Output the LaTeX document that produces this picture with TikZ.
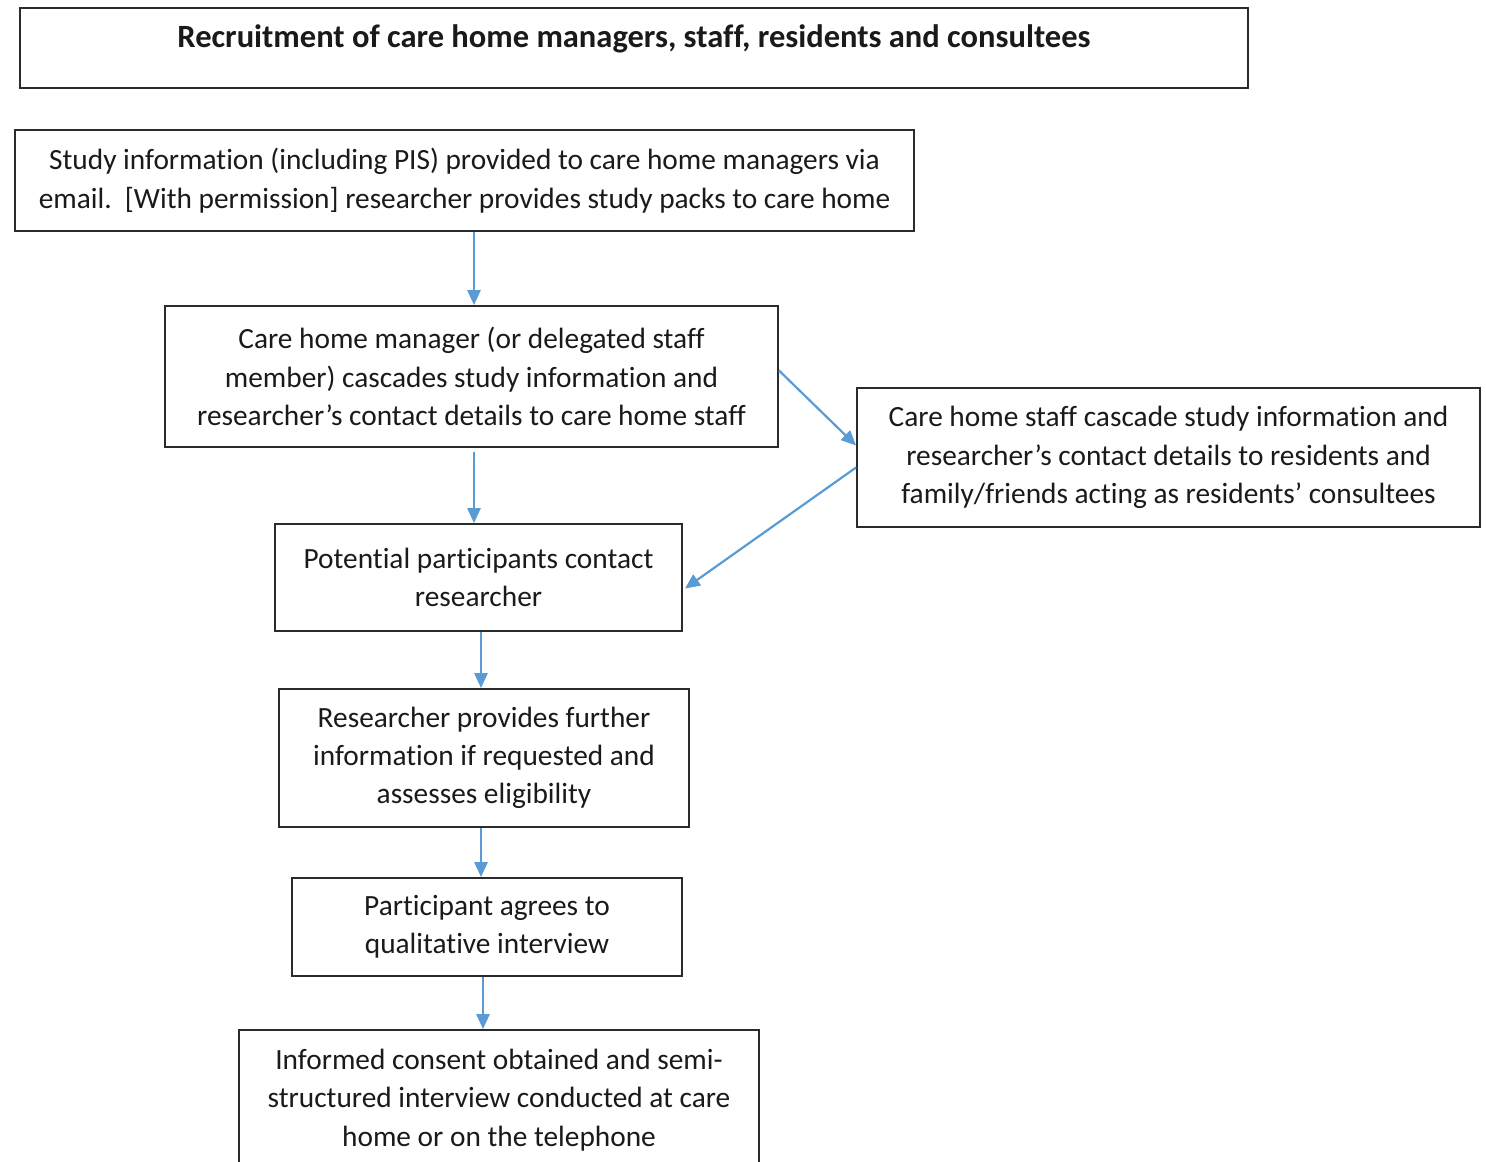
\documentclass[tikz,border=0pt]{standalone}
\usepackage{fontspec}
\setmainfont[Ligatures=NoCommon]{Carlito}
\usetikzlibrary{arrows.meta,calc}
\definecolor{arrowc}{HTML}{5B9BD5}
\definecolor{linec}{HTML}{2B2B2B}
\definecolor{textc}{HTML}{1A1A1A}
\tikzset{
  boxnode/.style={draw=linec, line width=1.1pt, align=center, inner sep=0pt, text=textc,
    font=\fontsize{16.7}{21.8}\selectfont},
  flowarrow/.style={draw=arrowc, line width=1.25pt, -{Triangle[length=8.5pt,width=7.5pt]}}
}
\begin{document}
\begin{tikzpicture}[x=0.02cm,y=-0.02cm]
\clip (0,0) rectangle (1486,1161);
\fill[white] (0,0) rectangle (1486,1161);
% title
\node[boxnode, minimum width={1228*0.02cm}, minimum height={80*0.02cm}] (title) at (634,48) {};
\node[text=textc, font=\fontsize{18.5}{22}\selectfont\bfseries] (ttl) at (634,39) {Recruitment of care home managers, staff, residents and consultees};
% boxes
\node[boxnode, minimum width={899*0.02cm}, minimum height={101*0.02cm}] (A) at (464.5,180.5)
  {Study information (including PIS) provided to care home managers via\\email.\ \ [With permission] researcher provides study packs to care home};
\node[boxnode, minimum width={613*0.02cm}, minimum height={141*0.02cm}] (B) at (471.5,376.5)
  {Care home manager (or delegated staff\\member) cascades study information and\\researcher’s contact details to care home staff};
\node[boxnode, minimum width={623*0.02cm}, minimum height={139*0.02cm}] (C) at (1168.5,457.5)
  {Care home staff cascade study information and\\researcher’s contact details to residents and\\family/friends acting as residents’ consultees};
\node[boxnode, minimum width={407*0.02cm}, minimum height={107*0.02cm}] (D) at (478.5,577.5)
  {Potential participants contact\\researcher};
\node[boxnode, minimum width={410*0.02cm}, minimum height={138*0.02cm}] (E) at (484,758)
  {Researcher provides further\\information if requested and\\assesses eligibility};
\node[boxnode, minimum width={390*0.02cm}, minimum height={98*0.02cm}] (F) at (487,927)
  {Participant agrees to\\qualitative interview};
\node[boxnode, minimum width={520*0.02cm}, minimum height={140*0.02cm}] (G) at (499,1100)
  {Informed consent obtained and semi-\\structured interview conducted at care\\home or on the telephone};
% arrows
\draw[flowarrow] ($(B.north |- A.south)+(2.5,0)$) -- ($(B.north)+(2.5,0)$);
\draw[flowarrow] ($(B.south)+(2.5,4)$) -- ($(D.north -| B.south)+(2.5,0)$);
\draw[flowarrow] ($(B.east)+(0,-6)$) -- ($(C.west)+(0,-12)$);
\draw[flowarrow] ($(C.west)+(0,10)$) -- ($(D.east)+(2,11)$);
\draw[flowarrow] ($(D.south)+(2.5,0)$) -- ($(D.south |- E.north)+(2.5,0)$);
\draw[flowarrow] ($(E.south)+(-3,0)$) -- ($(E.south |- F.north)+(-3,0)$);
\draw[flowarrow] ($(F.south)+(-4,0)$) -- ($(F.south |- G.north)+(-4,0)$);
\end{tikzpicture}
\end{document}
